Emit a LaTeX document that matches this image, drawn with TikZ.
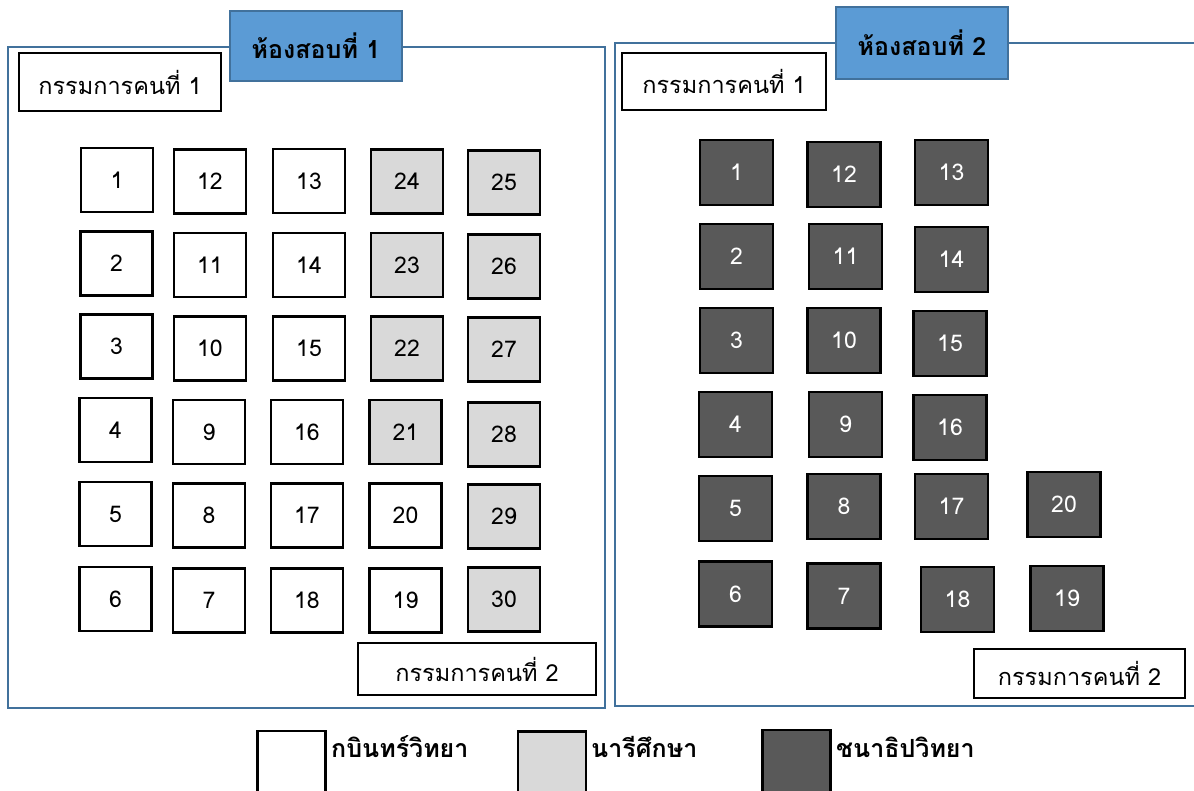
\documentclass[tikz,border=0pt]{standalone}
\usepackage{fontspec}
\setmainfont[Script=Thai]{Loma}
\definecolor{framecol}{HTML}{41719C}
\definecolor{titlefill}{HTML}{5B9BD5}
\definecolor{graycol}{HTML}{D9D9D9}
\definecolor{darkcol}{HTML}{595959}
\tikzset{
  seatw/.style={draw=black, line width=2.4pt, fill=white, minimum width=72pt, minimum height=64pt, inner sep=0pt, font=\fontsize{23}{25}\selectfont},
  seatg/.style={seatw, fill=graycol},
  seatd/.style={seatw, fill=darkcol, text=white, minimum width=73pt, minimum height=65pt},
  cbox/.style={draw=black, line width=2.4pt, fill=white, inner sep=0pt, font=\fontsize{23.5}{26}\selectfont},
  tbox/.style={draw=framecol, line width=2pt, fill=titlefill, inner sep=0pt, minimum width=172pt, minimum height=70pt, font=\bfseries\fontsize{25}{28}\selectfont},
  frameline/.style={draw=framecol, line width=2pt},
  legbox/.style={draw=black, line width=2.4pt, minimum width=68pt, minimum height=69pt, inner sep=0pt},
  legtext/.style={anchor=west, inner sep=0pt, font=\bfseries\fontsize{25}{28}\selectfont}
}
\begin{document}
\begin{tikzpicture}[x=1pt, y=-1pt]
\useasboundingbox (0,0) rectangle (1194,791);
\clip (0,0) rectangle (1194,791);
\fill[white] (0,0) rectangle (1194,791);
% frames
\draw[frameline] (8,47) rectangle (605,708);
\draw[frameline] (1210,43) -- (615,43) -- (615,706) -- (1210,706);
% titles
\node[tbox] (t1) at (316,46) {ห้องสอบที่ 1};
\node[tbox, minimum height=72pt] (t2) at (922,43) {ห้องสอบที่ 2};
% committee boxes
\node[cbox, minimum width=202pt, minimum height=58pt] (lc1) at (120,82) {กรรมการคนที่ 1};
\node[cbox, minimum width=238pt, minimum height=52pt] (lc2) at (477,669) {\raisebox{-3pt}{กรรมการคนที่ 2}};
\node[cbox, minimum width=204pt, minimum height=57pt] (rc1) at (724,81.5) {กรรมการคนที่ 1};
\node[cbox, minimum width=211pt, minimum height=49pt] (rc2) at (1079.5,673.5) {\raisebox{-4pt}{กรรมการคนที่ 2}};
% left room seats
\node[seatw] (l1) at (117,180) {1};
\node[seatw] (l12) at (210,181.5) {12};
\node[seatw] (l13) at (309,181) {13};
\node[seatg] (l24) at (407,181.5) {24};
\node[seatg] (l25) at (504,182.5) {25};
\node[seatw] (l2) at (116.5,263.5) {2};
\node[seatw] (l11) at (210,265) {11};
\node[seatw] (l14) at (309,265) {14};
\node[seatg] (l23) at (407,265) {23};
\node[seatg] (l26) at (504,266.5) {26};
\node[seatw] (l3) at (116.5,346.5) {3};
\node[seatw] (l10) at (210,348.5) {10};
\node[seatw] (l15) at (309,348.5) {15};
\node[seatg] (l22) at (407,348.5) {22};
\node[seatg] (l27) at (504,349.5) {27};
\node[seatw] (l4) at (115.5,430) {4};
\node[seatw] (l9) at (209,432) {9};
\node[seatw] (l16) at (307,432) {16};
\node[seatg] (l21) at (405.5,432) {21};
\node[seatg] (l28) at (504,434.5) {28};
\node[seatw] (l5) at (115.5,514) {5};
\node[seatw] (l8) at (209,515.5) {8};
\node[seatw] (l17) at (307,515.5) {17};
\node[seatw] (l20) at (405.5,515.5) {20};
\node[seatg] (l29) at (504,516.5) {29};
\node[seatw] (l6) at (115.5,599) {6};
\node[seatw] (l7) at (209,600.5) {7};
\node[seatw] (l18) at (307,600.5) {18};
\node[seatw] (l19) at (405.5,600.5) {19};
\node[seatg] (l30) at (504,599.5) {30};
% right room seats
\node[seatd] (r1) at (736.5,172.5) {1};
\node[seatd] (r12) at (844,174.5) {12};
\node[seatd] (r13) at (951.5,172.5) {13};
\node[seatd] (r2) at (736.5,256.5) {2};
\node[seatd] (r11) at (845.5,256.5) {11};
\node[seatd] (r14) at (951.5,259.5) {14};
\node[seatd] (r3) at (736.5,340.5) {3};
\node[seatd] (r10) at (844,340.5) {10};
\node[seatd] (r15) at (950,343.5) {15};
\node[seatd] (r4) at (735.5,424.5) {4};
\node[seatd] (r9) at (845.5,424.5) {9};
\node[seatd] (r16) at (950,427.5) {16};
\node[seatd] (r5) at (735.5,508.5) {5};
\node[seatd] (r8) at (844,506.5) {8};
\node[seatd] (r17) at (951.5,506.5) {17};
\node[seatd] (r20) at (1064,504.5) {20};
\node[seatd] (r6) at (735.5,594) {6};
\node[seatd] (r7) at (844,596) {7};
\node[seatd] (r18) at (957.5,599.5) {18};
\node[seatd] (r19) at (1067,598.5) {19};
% legend
\node[legbox, fill=white] (k1) at (291.5,765.5) {};
\node[legbox, fill=graycol] (k2) at (552,766) {};
\node[legbox, fill=darkcol] (k3) at (796.5,764.5) {};
\node[legtext] (k1t) at (331,747) {กบินทร์วิทยา};
\node[legtext] (k2t) at (591,747) {นารีศึกษา};
\node[legtext] (k3t) at (836,747) {ชนาธิปวิทยา};
\end{tikzpicture}
\end{document}
